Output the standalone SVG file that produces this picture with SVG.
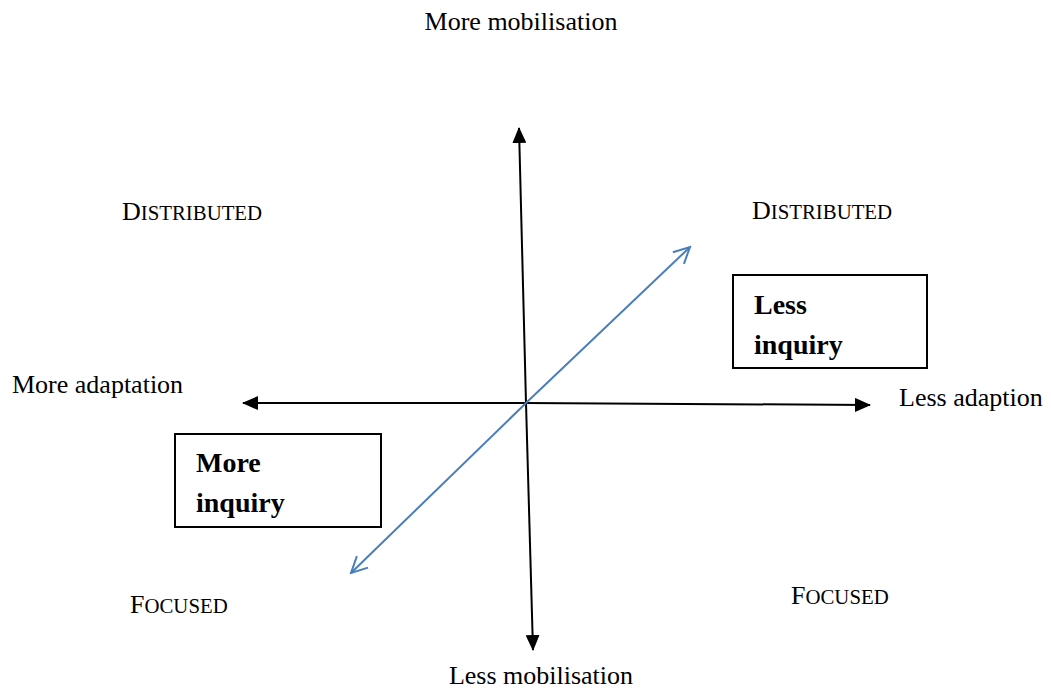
<svg xmlns="http://www.w3.org/2000/svg" width="1051" height="688" viewBox="0 0 1051 688">
<style>
text{font-family:"Liberation Serif","Times New Roman",serif;fill:#000}
.t{font-size:26px}
.sc{font-size:20.8px}
.b{font-size:28px;font-weight:bold}
.ax{stroke:#000;stroke-width:2;fill:none}
.bl{stroke:#4a7ebb;stroke-width:2;fill:none}
.box{fill:#fff;stroke:#000;stroke-width:2}
</style>
<defs>
<marker id="ah" viewBox="0 0 16 14" refX="15" refY="7" markerWidth="16" markerHeight="14" markerUnits="userSpaceOnUse" orient="auto"><path d="M0,0 L16,7 L0,14 z" fill="#000"/></marker>
<marker id="oa" viewBox="0 0 20 20" refX="18" refY="10" markerWidth="20" markerHeight="20" markerUnits="userSpaceOnUse" orient="auto"><path d="M2,2 L18,10 L2,18" fill="none" stroke="#4a7ebb" stroke-width="2"/></marker>
</defs>
<g id="connectors">
<line class="ax" x1="526" y1="403" x2="519" y2="128" marker-end="url(#ah)"/>
<line class="ax" x1="526" y1="403" x2="533" y2="650" marker-end="url(#ah)"/>
<line class="ax" x1="526" y1="403" x2="243" y2="403" marker-end="url(#ah)"/>
<line class="ax" x1="526" y1="403" x2="870" y2="405" marker-end="url(#ah)"/>
<line class="bl" x1="526" y1="403" x2="690" y2="247" marker-end="url(#oa)"/>
<line class="bl" x1="526" y1="403" x2="351" y2="573" marker-end="url(#oa)"/>
</g>
<g id="label-more-mobilisation"><text class="t" x="521" y="30" text-anchor="middle">More mobilisation</text></g>
<g id="label-less-mobilisation"><text class="t" x="541" y="684" text-anchor="middle">Less mobilisation</text></g>
<g id="label-more-adaptation"><text class="t" x="12" y="393">More adaptation</text></g>
<g id="label-less-adaption"><text class="t" x="899" y="406">Less adaption</text></g>
<g id="label-distributed-left"><text x="122" y="220"><tspan class="t">D</tspan><tspan class="sc">ISTRIBUTED</tspan></text></g>
<g id="label-distributed-right"><text x="752" y="219"><tspan class="t">D</tspan><tspan class="sc">ISTRIBUTED</tspan></text></g>
<g id="label-focused-left"><text x="130" y="613"><tspan class="t">F</tspan><tspan class="sc">OCUSED</tspan></text></g>
<g id="label-focused-right"><text x="791" y="604"><tspan class="t">F</tspan><tspan class="sc">OCUSED</tspan></text></g>
<g id="node-less-inquiry">
<rect class="box" x="733" y="275" width="194" height="93"/>
<text class="b" x="754" y="314">Less</text>
<text class="b" x="754" y="354">inquiry</text>
</g>
<g id="node-more-inquiry">
<rect class="box" x="175" y="434" width="206" height="93"/>
<text class="b" x="196" y="472">More</text>
<text class="b" x="196" y="512">inquiry</text>
</g>
</svg>
